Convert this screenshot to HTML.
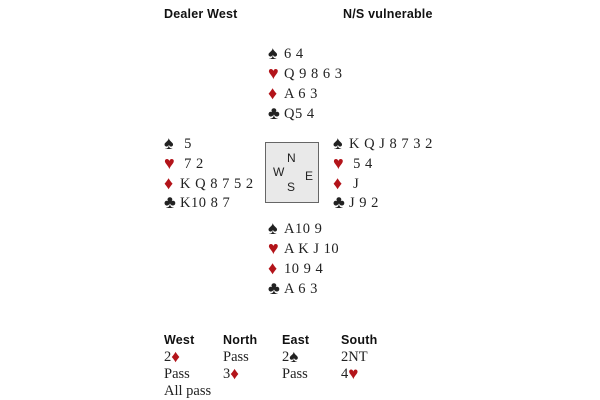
<!DOCTYPE html>
<html><head><style>
body{margin:0;width:600px;height:400px;background:#fff;position:relative;overflow:hidden;font-family:"Liberation Serif",serif;font-size:14.5px;color:#222}
.a{position:absolute;white-space:pre;line-height:16px;letter-spacing:0.5px}
.h{font-family:"Liberation Sans",sans-serif;font-weight:bold;font-size:12.5px;color:#111;letter-spacing:0.2px}
.r{color:#b3141a}
.s{display:inline-block;width:16px;font-size:18px;letter-spacing:0;vertical-align:-1px}
.b{font-size:17px;letter-spacing:0;vertical-align:-1px}
#box{position:absolute;left:265px;top:142px;width:52px;height:59px;border:1.5px solid #666;background:#e9e9e9;font-family:"Liberation Sans",sans-serif;font-size:12px}
#box span{position:absolute}
</style></head><body>
<div class="a h" style="left:164px;top:6px">Dealer West</div>
<div class="a h" style="left:343px;top:6px">N/S vulnerable</div>

<div class="a" style="left:268px;top:45px"><span class="s">♠</span>6 4</div>
<div class="a" style="left:268px;top:65px"><span class="s r">♥</span>Q 9 8 6 3</div>
<div class="a" style="left:268px;top:85px"><span class="s r">♦</span>A 6 3</div>
<div class="a" style="left:268px;top:105px"><span class="s">♣</span>Q5 4</div>

<div class="a" style="left:164px;top:135px"><span class="s">♠</span> 5</div>
<div class="a" style="left:164px;top:155px"><span class="s r">♥</span> 7 2</div>
<div class="a" style="left:164px;top:175px"><span class="s r">♦</span>K Q 8 7 5 2</div>
<div class="a" style="left:164px;top:194px"><span class="s">♣</span>K10 8 7</div>

<div id="box"><span style="left:21px;top:8px">N</span><span style="left:7px;top:22px">W</span><span style="left:39px;top:26px">E</span><span style="left:21px;top:37px">S</span></div>

<div class="a" style="left:333px;top:135px"><span class="s">♠</span>K Q J 8 7 3 2</div>
<div class="a" style="left:333px;top:155px"><span class="s r">♥</span> 5 4</div>
<div class="a" style="left:333px;top:175px"><span class="s r">♦</span> J</div>
<div class="a" style="left:333px;top:194px"><span class="s">♣</span>J 9 2</div>

<div class="a" style="left:268px;top:220px"><span class="s">♠</span>A10 9</div>
<div class="a" style="left:268px;top:240px"><span class="s r">♥</span>A K J 10</div>
<div class="a" style="left:268px;top:260px"><span class="s r">♦</span>10 9 4</div>
<div class="a" style="left:268px;top:280px"><span class="s">♣</span>A 6 3</div>

<div class="a h" style="left:164px;top:332px">West</div>
<div class="a h" style="left:223px;top:332px">North</div>
<div class="a h" style="left:282px;top:332px">East</div>
<div class="a h" style="left:341px;top:332px">South</div>
<div class="a" style="left:164px;top:349px;letter-spacing:0">2<span class="r b">♦</span></div>
<div class="a" style="left:223px;top:349px;letter-spacing:0">Pass</div>
<div class="a" style="left:282px;top:349px;letter-spacing:0">2<span class="b">♠</span></div>
<div class="a" style="left:341px;top:349px;letter-spacing:0">2NT</div>
<div class="a" style="left:164px;top:366px;letter-spacing:0">Pass</div>
<div class="a" style="left:223px;top:366px;letter-spacing:0">3<span class="r b">♦</span></div>
<div class="a" style="left:282px;top:366px;letter-spacing:0">Pass</div>
<div class="a" style="left:341px;top:366px;letter-spacing:0">4<span class="r b">♥</span></div>
<div class="a" style="left:164px;top:383px;letter-spacing:0">All pass</div>
</body></html>
